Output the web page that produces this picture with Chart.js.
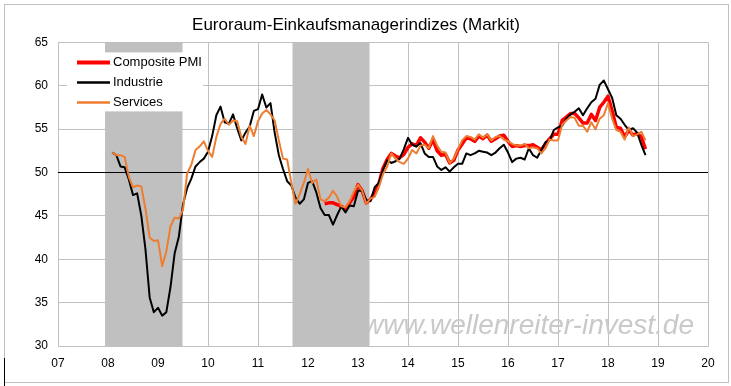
<!DOCTYPE html>
<html><head><meta charset="utf-8">
<script src="https://cdn.jsdelivr.net/npm/chart.js@4.4.0/dist/chart.umd.min.js"></script>
<style>html,body{margin:0;padding:0;background:#fff;}canvas{display:block}</style>
</head><body>
<canvas id="c" width="731" height="386"></canvas>
<script>
const chartTitle = 'Euroraum-Einkaufsmanagerindizes (Markit)';
const seriesNames = ['Composite PMI', 'Industrie', 'Services'];
const watermarkText = 'www.wellenreiter-invest.de';
const referenceLevel = 50;
const yMin = 30, yMax = 65, yStep = 5;
const xMin = 2007, xMax = 2020;

// recession shading periods (decimal years)
const recessions = [[2007.94, 2009.49], [2011.69, 2013.23]];

// monthly values
const industrieStart = '2008-02';
const industrie = [
  52.3, 52.0, 50.7, 50.6, 49.2, 47.4, 47.6, 45.0, 41.1, 35.6, 33.9,
  34.4, 33.5, 33.9, 36.8, 40.7, 42.6, 46.3, 48.2, 49.3, 50.7, 51.2, 51.6,
  52.4, 54.2, 56.6, 57.6, 55.8, 55.6, 56.7, 55.1, 53.7, 54.6, 55.3, 57.1,
  57.3, 59.0, 57.5, 58.0, 54.6, 52.0, 50.4, 49.0, 48.5, 47.1, 46.4, 46.9,
  48.8, 49.0, 47.7, 45.9, 45.1, 45.1, 44.0, 45.1, 46.1, 45.4, 46.2, 46.1,
  47.9, 47.9, 46.8, 46.7, 48.3, 48.8, 50.3, 51.4, 51.1, 51.3, 51.6, 52.7,
  54.0, 53.2, 53.0, 53.4, 52.2, 51.8, 51.8, 50.7, 50.3, 50.6, 50.1, 50.6,
  51.0, 51.0, 52.2, 52.0, 52.2, 52.5, 52.4, 52.3, 52.0, 52.3, 52.8, 53.2,
  52.3, 51.2, 51.6, 51.7, 51.5, 52.8, 52.0, 51.7, 52.6, 53.5, 53.7, 54.9,
  55.2, 55.4, 56.2, 56.7, 57.0, 57.4, 56.6, 57.4, 58.1, 58.5, 60.1, 60.6,
  59.6, 58.6, 56.6, 56.2, 55.5, 54.9, 55.1, 54.6, 53.2, 52.0
];
const servicesStart = '2008-02';
const services = [
  52.3, 52.0, 52.0, 51.8, 49.5, 48.3, 48.5, 48.4, 45.8, 42.5, 42.1,
  42.2, 39.2, 40.9, 43.8, 44.8, 44.7, 45.7, 49.9, 50.9, 52.6, 53.0, 53.6,
  52.5, 51.8, 54.1, 55.6, 56.2, 55.5, 56.0, 55.9, 54.1, 53.3, 55.4, 54.2,
  55.9, 56.8, 57.2, 56.7, 56.0, 53.7, 51.6, 51.5, 48.8, 46.4, 47.5, 48.8,
  50.4, 48.8, 49.2, 46.9, 46.7, 47.1, 47.9, 47.2, 46.1, 46.0, 46.7, 47.8,
  48.6, 47.9, 46.4, 47.0, 47.2, 48.3, 49.8, 50.7, 52.2, 51.6, 51.2, 51.0,
  51.6, 52.6, 52.2, 53.1, 53.2, 52.8, 54.2, 53.1, 52.4, 52.3, 51.1, 51.6,
  52.7, 53.7, 54.2, 54.1, 53.8, 54.4, 54.0, 54.4, 53.7, 54.1, 54.2, 53.8,
  53.6, 53.3, 53.1, 53.1, 53.3, 52.8, 52.9, 52.8, 52.2, 52.8, 53.8, 53.7,
  53.7, 55.5, 56.0, 56.4, 56.3, 55.4, 55.4, 54.7, 55.8, 55.0, 56.2, 56.6,
  58.0, 56.2, 54.9, 54.7, 53.8, 55.2, 54.2, 54.4, 54.7, 53.7
];
const compositeStart = '2012-05';
const composite = [
  46.4, 46.5, 46.5, 46.3, 46.1, 45.8, 46.5, 47.2,
  48.6, 47.9, 46.5, 46.9, 47.7, 48.7, 50.5, 51.5, 52.2, 51.9, 51.7, 52.1,
  52.9, 53.3, 53.1, 54.0, 53.5, 52.8, 53.8, 52.5, 52.0, 52.1, 51.1, 51.4,
  52.6, 53.3, 54.0, 53.9, 53.6, 54.2, 53.9, 54.3, 53.6, 53.9, 54.2, 54.3,
  53.6, 53.0, 53.1, 53.0, 53.1, 53.1, 53.2, 52.9, 52.6, 53.3, 53.9, 54.4,
  54.4, 56.0, 56.4, 56.8, 56.8, 56.3, 55.7, 55.7, 56.7, 56.0, 57.5, 58.1,
  58.8, 57.1, 55.2, 55.1, 54.1, 54.9, 54.3, 54.5, 54.1, 52.7
];

function toPoints(start, values) {
  const [y, m] = start.split('-').map(Number);
  return values.map((v, i) => ({ x: y + (m - 1 + i) / 12, y: v }));
}

const FONT = "'Liberation Sans', Arial, sans-serif";
const GRID = '#c0c0c0';
const SHADE = '#c0c0c0';
const colors = { 'Composite PMI': '#ff0000', 'Industrie': '#000000', 'Services': '#ed7d31' };
const widths = { 'Composite PMI': 3.5, 'Industrie': 2, 'Services': 2 };
const legendWidths = { 'Composite PMI': 4, 'Industrie': 2.5, 'Services': 2.5 };

const bgPlugin = {
  id: 'bg',
  beforeDraw(chart) {
    const c = chart.ctx;
    c.save(); c.fillStyle = '#fff'; c.fillRect(0, 0, chart.width, chart.height); c.restore();
  }
};

const shadePlugin = {
  id: 'shade',
  beforeDatasetsDraw(chart) {
    const { ctx, chartArea: a, scales: { x } } = chart;
    ctx.save();
    ctx.font = 'italic 28px ' + FONT;
    ctx.fillStyle = '#c9c9c9';
    ctx.textAlign = 'right';
    ctx.textBaseline = 'alphabetic';
    ctx.fillText(watermarkText, a.right - 14, a.bottom - 12);
    ctx.fillStyle = SHADE;
    recessions.forEach(([s, e]) => {
      const x0 = x.getPixelForValue(s), x1 = x.getPixelForValue(e);
      ctx.fillRect(x0, a.top, x1 - x0, a.bottom - a.top);
    });
    ctx.restore();
  }
};

const legendPlugin = {
  id: 'boxLegend',
  afterDatasetsDraw(chart) {
    const { ctx, chartArea: a } = chart;
    ctx.save();
    const bx = a.left + 9, by = a.top + 10;
    ctx.fillStyle = '#fff';
    ctx.fillRect(bx, by, 136, 59);
    ctx.font = '13px ' + FONT;
    ctx.textBaseline = 'middle';
    ctx.textAlign = 'left';
    seriesNames.forEach((name, i) => {
      const yy = by + 10 + i * 20;
      ctx.strokeStyle = colors[name];
      ctx.lineWidth = legendWidths[name];
      ctx.beginPath(); ctx.moveTo(bx + 10, yy); ctx.lineTo(bx + 43, yy); ctx.stroke();
      ctx.fillStyle = '#000';
      ctx.fillText(name, bx + 46, yy);
    });
    ctx.restore();
  }
};

const framePlugin = {
  id: 'frame',
  afterDraw(chart) {
    const c = chart.ctx;
    c.save();
    c.strokeStyle = '#c0c0c0'; c.lineWidth = 1;
    c.strokeRect(4.5, 4.5, 724, 378);
    c.strokeStyle = '#000';
    c.beginPath(); c.moveTo(4.5, 358); c.lineTo(4.5, 386); c.stroke();
    c.restore();
  }
};

const datasets = [
  { label: 'ref', data: [{ x: xMin, y: referenceLevel }, { x: xMax, y: referenceLevel }],
    borderColor: '#000', borderWidth: 1, order: 4 },
  { label: 'Composite PMI', data: toPoints(compositeStart, composite), order: 3 },
  { label: 'Industrie', data: toPoints(industrieStart, industrie), order: 2 },
  { label: 'Services', data: toPoints(servicesStart, services), order: 1 }
];
datasets.forEach(d => {
  if (colors[d.label]) { d.borderColor = colors[d.label]; d.borderWidth = widths[d.label]; }
  d.pointRadius = 0; d.tension = 0; d.fill = false; d.borderJoinStyle = 'round';
});

new Chart(document.getElementById('c'), {
  type: 'line',
  data: { datasets },
  options: {
    responsive: false,
    animation: false,
    devicePixelRatio: 1,
    layout: { padding: { left: 4, right: 23, top: 0, bottom: 0 } },
    plugins: {
      legend: { display: false },
      tooltip: { enabled: false },
      title: {
        display: true, text: chartTitle, color: '#000',
        font: { family: FONT, size: 17, weight: 'normal' },
        padding: { top: 15, bottom: 7 }
      }
    },
    scales: {
      x: {
        type: 'linear', min: xMin, max: xMax,
        afterFit: s => { s.height = 40; },
        grid: { color: GRID, drawTicks: false },
        border: { color: GRID },
        ticks: {
          stepSize: 1, padding: 10, color: '#000',
          font: { family: FONT, size: 12 },
          callback: v => String(v % 100).padStart(2, '0')
        }
      },
      y: {
        min: yMin, max: yMax,
        afterFit: s => { s.width = 54; },
        grid: { color: GRID, drawTicks: false },
        border: { color: GRID },
        ticks: { stepSize: yStep, padding: 10, color: '#000', font: { family: FONT, size: 12 } }
      }
    }
  },
  plugins: [bgPlugin, shadePlugin, legendPlugin, framePlugin]
});
</script>
</body></html>
